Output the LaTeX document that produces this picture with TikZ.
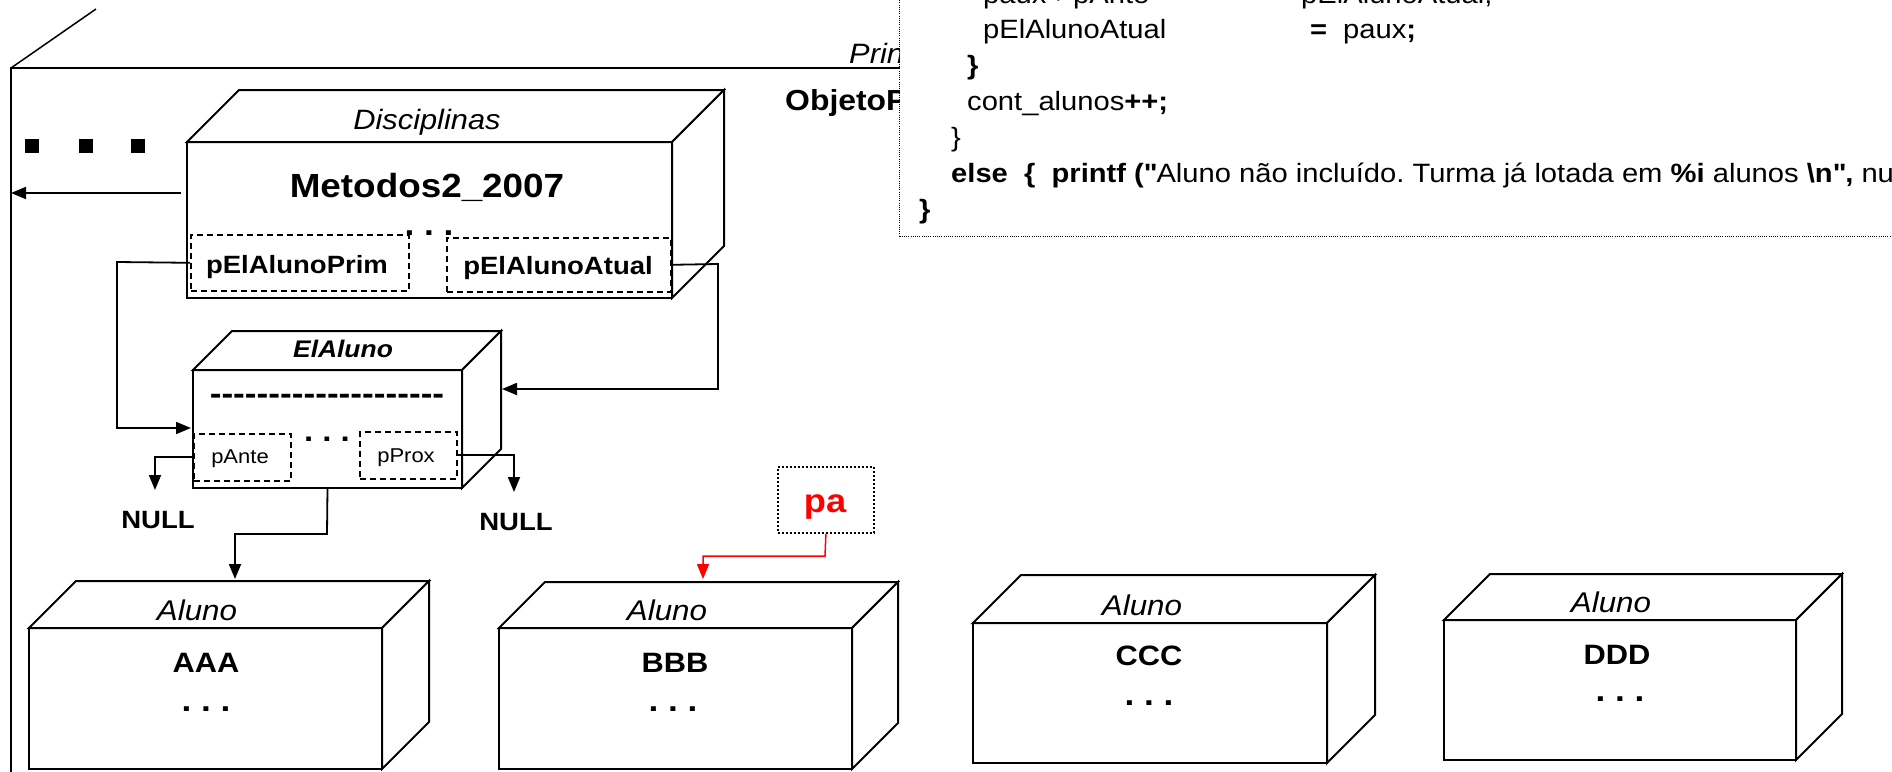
\documentclass[tikz,border=0pt]{standalone}
\usepackage{fontspec}
\setmainfont{Liberation Sans}[FakeStretch=1.1]
\usetikzlibrary{arrows.meta,calc}
\newcommand\fs[1]{\fontsize{#1}{#1}\selectfont}
\newcommand\hy{-\kern0pt}
\newcommand\dq{\XeTeXglyph\XeTeXcharglyph"22\relax}
\frenchspacing
\tikzset{
 face/.style={draw, line width=2pt, fill=white, line join=miter},
 dbox/.style={draw, line width=1.6pt, dash pattern=on 6pt off 4pt, fill=white, inner sep=0pt, anchor=north west},
 arr/.style={line width=1.8pt, -{Triangle[length=15pt,width=12pt]}},
 lbl/.style={inner sep=0pt, anchor=base},
 codeline/.style={inner sep=0pt, anchor=base west, font=\fs{26.5}},
}
\newcommand\cubo[6]{%
  \node[face, anchor=north west, minimum width=#4pt, minimum height=#5pt, inner sep=0pt, outer sep=0pt] (#1) at (#2,#3) {};
  \draw[face] (#1.north west) -- ++(#6,-#6) -- ($(#1.north east)+(#6,-#6)$) -- (#1.north east) -- cycle;
  \draw[face] (#1.north east) -- ++(#6,-#6) -- ($(#1.south east)+(#6,-#6)$) -- (#1.south east) -- cycle;
}
\begin{document}
\begin{tikzpicture}[x=1pt,y=-1pt]
\useasboundingbox (0,0) rectangle (1892,771);
\clip (0,0) rectangle (1892,771);
% outer frame
\coordinate (fTL) at (11,68);
\coordinate (fBL) at (11,780);
\coordinate (fTR) at (905,68);
\coordinate (fBK) at (96,9);
\draw[line width=1.5pt] (fBL) -- (fTL) -- (fTR);
\draw[line width=1.5pt] (fTL) -- (fBK);
\node[lbl, anchor=base west, font=\fs{28}\itshape] (prin) at (849,63) {Prin};
\node[lbl, anchor=base west, font=\fs{29}\bfseries] (obj) at (785,110) {ObjetoP};
% code box
\node[draw, line width=1pt, dash pattern=on 1pt off 1.2pt, fill=white, anchor=north west, minimum width=1010pt, minimum height=250pt, inner sep=0pt] (code) at (899,-14) {};
\node[codeline] (c1a) at (983,3) {paux->pAnte};
\node[codeline] (c1b) at (1301,3) {pElAlunoAtual;};
\node[codeline] (c2a) at (983,38) {pElAlunoAtual};
\node[codeline] (c2b) at (1310,38) {\bfseries =};
\node[codeline] (c2c) at (1343,38) {paux\textbf{;}};
\node[codeline] (c3) at (967,74) {\bfseries \}};
\node[codeline] (c4) at (967,110) {cont\_alunos\textbf{++;}};
\node[codeline] (c5) at (951,146) {\}};
\node[codeline] (c6) at (951,182) {\textbf{else\ \ \{\ \ printf (\dq}Aluno não incluído. Turma já lotada em \textbf{\%i} alunos \textbf{\textbackslash n\dq,} nu};
\node[codeline] (c7) at (919,218) {\bfseries \}};
% small squares
\foreach \x/\n in {25/q1,79/q2,131/q3}{
  \node[fill=black, minimum size=14pt, inner sep=0pt, anchor=north west] (\n) at (\x,139) {};
}
% Disciplinas
\cubo{disc}{187}{142}{485}{156}{52}
\node[lbl, font=\fs{28}\itshape] (discT) at (427,129) {Disciplinas};
\node[lbl, font=\fs{33.5}\bfseries] (discN) at (427,197) {Metodos2\_2007};
\node[dbox, minimum width=218pt, minimum height=56pt] (prim) at (190,234) {};
\node[dbox, minimum width=224pt, minimum height=54pt] (atual) at (446,237) {};
\node[lbl, font=\fs{25}\bfseries] (primT) at (297,273) {pElAlunoPrim};
\node[lbl, font=\fs{25}\bfseries] (atualT) at (558,274) {pElAlunoAtual};
\node[lbl, font=\fs{32}\bfseries] (discD) at (429,235) {. . .};
% ElAluno
\cubo{elal}{193}{370}{269}{118}{39}
\node[lbl, font=\fs{24}\bfseries\itshape] (elalT) at (343,357) {ElAluno};
\node[lbl, font=\fs{32}\bfseries] (elalL) at (327,404) {\hy\hy\hy\hy\hy\hy\hy\hy\hy\hy\hy\hy\hy\hy\hy\hy\hy\hy\hy\hy};
\node[dbox, minimum width=97pt, minimum height=47pt] (ante) at (193,433) {};
\node[dbox, minimum width=97pt, minimum height=47pt] (prox) at (359,431) {};
\node[lbl, font=\fs{20}] (anteT) at (240,463) {pAnte};
\node[lbl, font=\fs{20}] (proxT) at (406,462) {pProx};
\node[lbl, font=\fs{30}\bfseries] (elalD) at (327,441) {. . .};
\node[lbl, font=\fs{25}\bfseries] (null1) at (158,528) {NULL};
\node[lbl, font=\fs{25}\bfseries] (null2) at (516,530) {NULL};
% pa
\node[draw, line width=1.8pt, dash pattern=on 2pt off 2pt, anchor=north west, minimum width=96pt, minimum height=66pt, inner sep=0pt] (pa) at (777,466) {};
\node[lbl, font=\fs{33}\bfseries, text=red] (paT) at (825,512) {pa};
% Aluno boxes
\cubo{alA}{29}{628}{353}{141}{47}
\cubo{alB}{499}{628}{353}{141}{46}
\cubo{alC}{973}{623}{354}{140}{48}
\cubo{alD}{1444}{620}{352}{140}{46}
\node[lbl, font=\fs{28.5}\itshape] (tA) at (197,620) {Aluno};
\node[lbl, font=\fs{28}\bfseries] (nA) at (206,672) {AAA};
\node[lbl, font=\fs{32}\bfseries] (dA) at (206,711) {. . .};
\node[lbl, font=\fs{28.5}\itshape] (tB) at (667,620) {Aluno};
\node[lbl, font=\fs{28}\bfseries] (nB) at (675,672) {BBB};
\node[lbl, font=\fs{32}\bfseries] (dB) at (673,711) {. . .};
\node[lbl, font=\fs{28.5}\itshape] (tC) at (1142,615) {Aluno};
\node[lbl, font=\fs{28}\bfseries] (nC) at (1149,665) {CCC};
\node[lbl, font=\fs{32}\bfseries] (dC) at (1149,705) {. . .};
\node[lbl, font=\fs{28.5}\itshape] (tD) at (1611,612) {Aluno};
\node[lbl, font=\fs{28}\bfseries] (nD) at (1617,664) {DDD};
\node[lbl, font=\fs{32}\bfseries] (dD) at (1620,701) {. . .};
% connectors
\coordinate (discL) at ([xshift=-6pt, yshift=27pt]disc.west);
\draw[arr] (discL) -- (fTL |- discL);
\draw[arr] (prim.west) -- (117,262) |- ([xshift=-2pt]elal.west |- 0,428);
\draw[arr] (atual.east) -- (718,264) |- ([xshift=40pt]elal.east |- 0,389);
\draw[arr] (ante.west) -| (155,490);
\draw[arr] (prox.east) -| (514,492);
\draw[arr] (elal.south) -- (327,534) -| (235,579);
\draw[arr, red, line width=1.5pt] (pa.south) -- (825,556) -| (703,579);
\end{tikzpicture}
\end{document}
